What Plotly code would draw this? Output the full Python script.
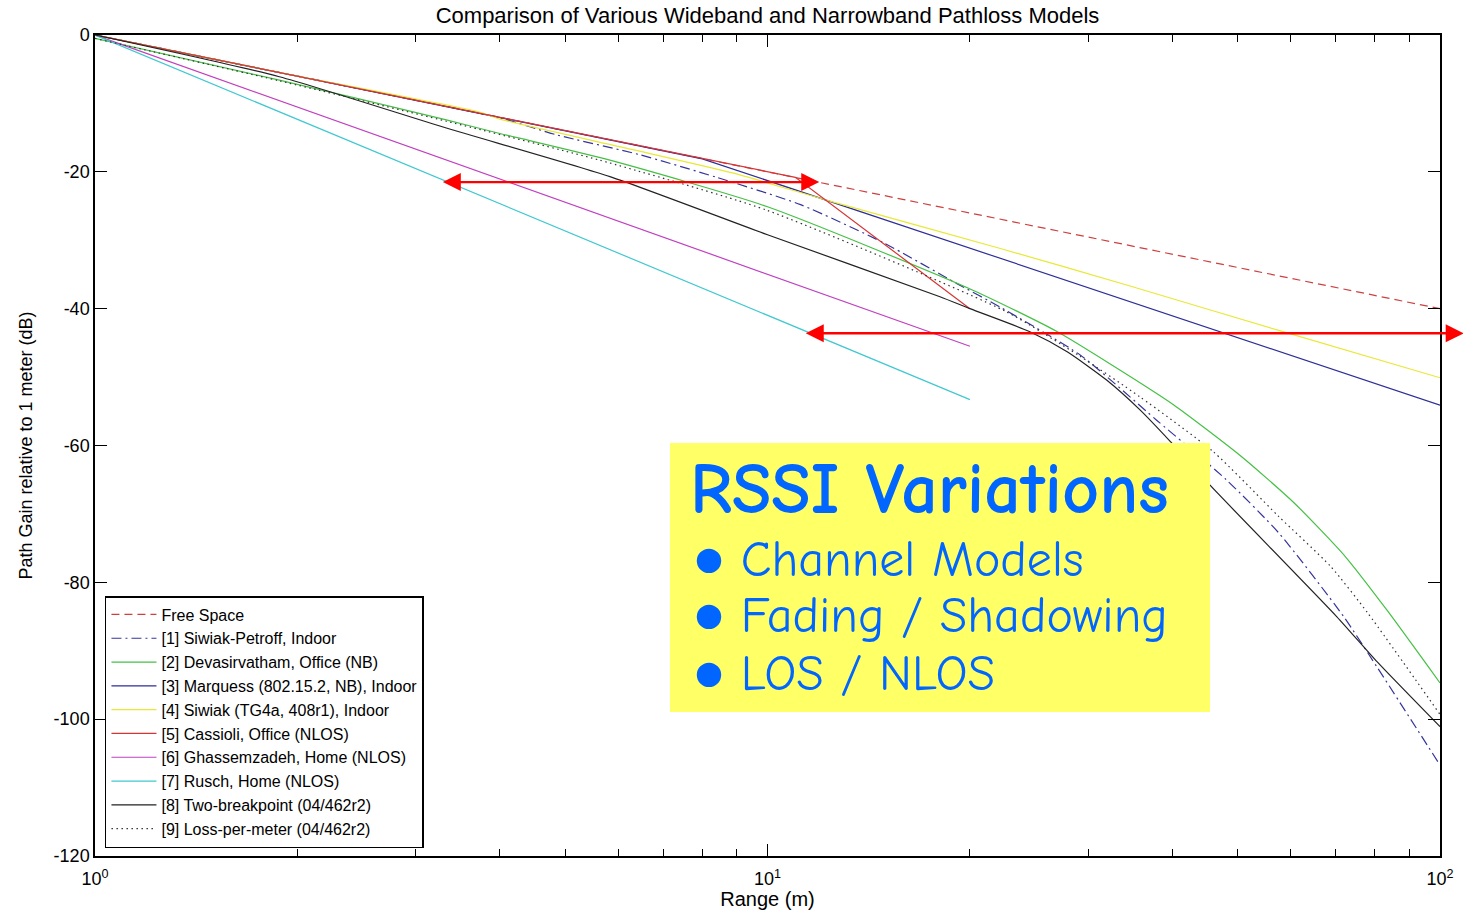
import numpy as np
import plotly.graph_objects as go

# ---- path gain curves: range (m) and gain relative to 1 m (dB) ----
free_d = [1, 100]
free_g = [0, -40]

siwiak_petroff_d = [1, 2, 3, 4, 4.86, 6.46, 8.4, 11.2, 14.9, 19.1, 22.2, 29.2, 37.9, 48.1, 57.6, 71.9, 80.5, 100]
siwiak_petroff_g = [0, -6.0, -9.5, -12.1, -14.6, -17.5, -20.8, -24.8, -30.4, -36.3, -39.8, -46.8, -56.3, -65.0, -72.8, -85.0, -92.3, -106.7]

devasirvatham_d = [1, 1.88, 3.33, 4, 5.83, 10, 20.2, 26.9, 32.6, 40.1, 50.5, 60.7, 72.4, 83.3, 100]
devasirvatham_g = [-0.5, -6.6, -12.4, -14.4, -18.3, -25.1, -37.3, -43.3, -48.3, -54.0, -61.5, -68.4, -76.3, -84.0, -94.7]

marquess_d = [1, 8, 100]
marquess_g = [0, -18.1, -54.1]

siwiak_tg4a_d = [1, 2, 3.74, 4, 6.33, 8.9, 12.5, 22.2, 34.9, 58.6, 100]
siwiak_tg4a_g = [0, -6.0, -11.3, -12.3, -16.8, -20.2, -24.4, -31.2, -36.8, -43.4, -50.1]

cassioli_d = [1, 11, 20]
cassioli_g = [0, -20.8, -40.0]

ghassemzadeh_d = [1, 20]
ghassemzadeh_g = [0, -45.5]

rusch_d = [1, 20]
rusch_g = [0, -53.3]

two_bp_d = [1, 1.88, 3.33, 5.83, 10, 18.05, 20, 24.6, 27.9, 31.9, 35.8, 39.7, 45.5, 70.2, 80.6, 100]
two_bp_g = [0, -6.1, -13.6, -20.7, -29.2, -38.25, -40.0, -43.4, -46.3, -50.4, -54.8, -59.4, -65.8, -85.0, -91.6, -101.1]

loss_pm_d = [1, 1.88, 3.33, 5.63, 9.97, 22.6, 29.2, 35.8, 46.0, 57.6, 68.8, 78.1, 100]
loss_pm_g = [-0.5, -6.7, -12.6, -18.3, -25.6, -40.4, -47.0, -52.9, -60.9, -70.4, -77.7, -84.5, -99.3]

# ---- axis ticks ----
x_major = [1, 10, 100]
x_major_text = ["10<sup>0</sup>", "10<sup>1</sup>", "10<sup>2</sup>"]
x_minor = [2, 3, 4, 5, 6, 7, 8, 9, 20, 30, 40, 50, 60, 70, 80, 90]
y_ticks = [0, -20, -40, -60, -80, -100, -120]
y_tick_text = ["0", "-20", "-40", "-60", "-80", "-100", "-120"]

# ---- RSSI spread arrows (range span in m, gain level in dB) ----
arrow_upper_d = [3.29, 12.0]
arrow_upper_g = -21.5
arrow_lower_d = [11.4, 109.0]
arrow_lower_g = -43.6

series = [
    ("Free Space", free_d, free_g, "#cc4040", "8px,5px", "linear"),
    ("[1] Siwiak-Petroff, Indoor", siwiak_petroff_d, siwiak_petroff_g, "#34349c", "10px,4px,2px,4px", "spline"),
    ("[2] Devasirvatham, Office (NB)", devasirvatham_d, devasirvatham_g, "#44c044", "solid", "spline"),
    ("[3] Marquess (802.15.2, NB), Indoor", marquess_d, marquess_g, "#2e2e98", "solid", "linear"),
    ("[4] Siwiak (TG4a, 408r1), Indoor", siwiak_tg4a_d, siwiak_tg4a_g, "#e8e838", "solid", "spline"),
    ("[5] Cassioli, Office (NLOS)", cassioli_d, cassioli_g, "#d83434", "solid", "linear"),
    ("[6] Ghassemzadeh, Home (NLOS)", ghassemzadeh_d, ghassemzadeh_g, "#c040c0", "solid", "linear"),
    ("[7] Rusch, Home (NLOS)", rusch_d, rusch_g, "#40c8d0", "solid", "linear"),
    ("[8] Two-breakpoint (04/462r2)", two_bp_d, two_bp_g, "#222222", "solid", "spline"),
    ("[9] Loss-per-meter (04/462r2)", loss_pm_d, loss_pm_g, "#333333", "1.5px,3.5px", "spline"),
]

fig = go.Figure()
for name, d, g, color, dash, shape in series:
    line = dict(color=color, width=1.2, dash=dash, shape=shape)
    if shape == "spline":
        line["smoothing"] = 0.6
    fig.add_trace(go.Scatter(x=d, y=g, mode="lines", name=name, line=line))

base_font = "Liberation Sans, Arial, sans-serif"
axis_common = dict(
    showline=True, linecolor="black", linewidth=1.5, mirror="allticks",
    ticks="inside", tickcolor="black", tickwidth=1.2, ticklen=12,
    showgrid=False, zeroline=False, automargin=False,
    tickfont=dict(family=base_font, size=18, color="black"),
)

fig.update_xaxes(
    type="log", range=[0, 2],
    tickvals=x_major, ticktext=x_major_text, ticklabelstandoff=6,
    minor=dict(tickvals=x_minor, ticks="inside", ticklen=7, tickwidth=1, tickcolor="black", showgrid=False),
    title=dict(text="Range (m)", font=dict(family=base_font, size=20, color="black"), standoff=14),
    **axis_common,
)
fig.update_yaxes(
    range=[-120, 0], tickvals=y_ticks, ticktext=y_tick_text,
    title=dict(text="Path Gain relative to 1 meter (dB)", font=dict(family=base_font, size=18, color="black"), standoff=16),
    **axis_common,
)

# double-headed red arrows marking the spread between models
for d_pair, level in [(arrow_upper_d, arrow_upper_g), (arrow_lower_d, arrow_lower_g)]:
    fig.add_annotation(
        x=float(np.log10(d_pair[0])), y=level,
        ax=float(np.log10(d_pair[1])), ay=level,
        xref="x", yref="y", axref="x", ayref="y",
        text="", showarrow=True, arrowhead=2, startarrowhead=2, arrowside="end+start",
        arrowsize=1.5, startarrowsize=1.5, arrowwidth=2.4, arrowcolor="#ff0000", standoff=0, startstandoff=0,
    )

# highlighted callout box
fig.add_shape(type="rect", xref="paper", yref="paper",
              x0=0.4275, x1=0.829, y0=0.1754, y1=0.503,
              fillcolor="#ffff66", line=dict(width=0), layer="above")

callout_font = "Comic Sans MS, Comic Neue, Lato, sans-serif"
blue = "#0066ff"
fig.add_annotation(text="<b>RSSI Variations</b>", xref="paper", yref="paper",
                   x=0.4410, y=0.4470, xanchor="left", yanchor="middle", showarrow=False,
                   font=dict(family=callout_font, size=72, color=blue))
for label, ypos in [("\u25cf Channel Models", 0.3605), ("\u25cf Fading / Shadowing", 0.2920), ("\u25cf LOS / NLOS", 0.2222)]:
    fig.add_annotation(text=label, xref="paper", yref="paper",
                       x=0.4439, y=ypos, xanchor="left", yanchor="middle", showarrow=False,
                       font=dict(family=callout_font, size=50, color=blue))

fig.update_layout(
    width=1463, height=910,
    margin=dict(l=95, r=23, t=35, b=54),
    paper_bgcolor="white", plot_bgcolor="white",
    title=dict(text="Comparison of Various Wideband and Narrowband Pathloss Models",
               x=0.5, xref="paper", xanchor="center", y=0.9835, yref="container", yanchor="middle",
               font=dict(family=base_font, size=22, color="black")),
    legend=dict(x=0.0074, y=0.0097, xanchor="left", yanchor="bottom",
                bgcolor="white", bordercolor="black", borderwidth=1.5,
                font=dict(family=base_font, size=16, color="black"),
                itemwidth=45, tracegroupgap=0),
    showlegend=True,
)

fig.write_html("out.html")
